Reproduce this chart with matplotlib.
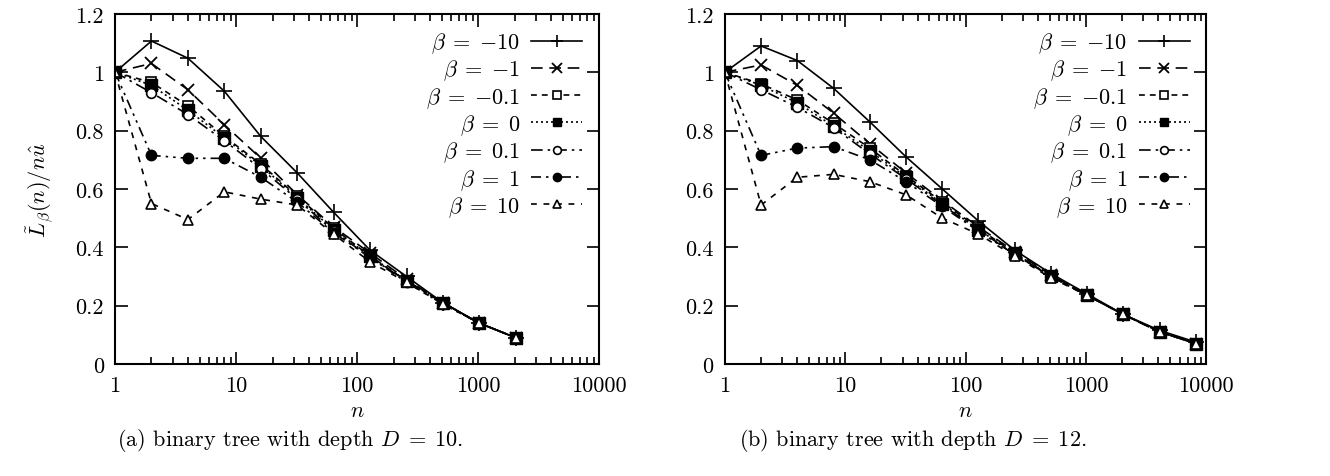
import matplotlib
matplotlib.use("Agg")
import matplotlib.pyplot as plt
from matplotlib.ticker import LogLocator, FixedLocator, FuncFormatter, NullFormatter

plt.rcParams['font.family'] = 'serif'
plt.rcParams['font.serif'] = ['cmr10', 'DejaVu Serif']
plt.rcParams['mathtext.fontset'] = 'cm'
plt.rcParams['axes.unicode_minus'] = False

# ---- data ----
betas = ["-10", "-1", "-0.1", "0", "0.1", "1", "10"]

n_a = [1, 2, 4, 8, 16, 32, 64, 128, 256, 512, 1024, 2048]
vals_a = {
    "-10":  [1.0, 1.107, 1.048, 0.935, 0.78, 0.655, 0.52, 0.39, 0.30, 0.21, 0.14, 0.09],
    "-1":   [1.0, 1.03, 0.94, 0.82, 0.705, 0.58, 0.47, 0.38, 0.29, 0.21, 0.14, 0.09],
    "-0.1": [1.0, 0.965, 0.885, 0.78, 0.685, 0.575, 0.465, 0.37, 0.285, 0.21, 0.14, 0.09],
    "0":    [1.0, 0.955, 0.87, 0.775, 0.68, 0.57, 0.46, 0.37, 0.285, 0.21, 0.14, 0.09],
    "0.1":  [1.0, 0.93, 0.855, 0.765, 0.67, 0.565, 0.455, 0.365, 0.285, 0.21, 0.14, 0.09],
    "1":    [1.0, 0.715, 0.705, 0.705, 0.64, 0.555, 0.45, 0.365, 0.28, 0.205, 0.14, 0.09],
    "10":   [1.0, 0.55, 0.495, 0.59, 0.565, 0.545, 0.445, 0.35, 0.28, 0.205, 0.14, 0.09],
}

n_b = [1, 2, 4, 8, 16, 32, 64, 128, 256, 512, 1024, 2048, 4096, 8192]
vals_b = {
    "-10":  [1.0, 1.09, 1.04, 0.945, 0.83, 0.71, 0.60, 0.49, 0.39, 0.31, 0.24, 0.17, 0.115, 0.075],
    "-1":   [1.0, 1.025, 0.955, 0.86, 0.755, 0.655, 0.56, 0.47, 0.385, 0.305, 0.235, 0.17, 0.11, 0.07],
    "-0.1": [1.0, 0.96, 0.905, 0.825, 0.74, 0.645, 0.555, 0.465, 0.38, 0.30, 0.235, 0.17, 0.11, 0.07],
    "0":    [1.0, 0.955, 0.895, 0.815, 0.73, 0.64, 0.55, 0.46, 0.38, 0.30, 0.235, 0.17, 0.11, 0.07],
    "0.1":  [1.0, 0.94, 0.88, 0.81, 0.72, 0.635, 0.545, 0.46, 0.375, 0.30, 0.235, 0.17, 0.11, 0.07],
    "1":    [1.0, 0.715, 0.74, 0.745, 0.70, 0.625, 0.54, 0.455, 0.375, 0.30, 0.235, 0.17, 0.11, 0.07],
    "10":   [1.0, 0.545, 0.64, 0.65, 0.625, 0.58, 0.50, 0.445, 0.37, 0.295, 0.235, 0.17, 0.11, 0.07],
}

x_ticks = [1, 10, 100, 1000, 10000]
y_ticks = [0, 0.2, 0.4, 0.6, 0.8, 1.0, 1.2]
captions = [r"(a) binary tree with depth $D\;=\;10$.", r"(b) binary tree with depth $D\;=\;12$."]

styles = {
    "-10":  dict(ls='-', marker='+', mfc='black', ms=11, mew=1.2),
    "-1":   dict(ls=(0, (7, 4)), marker='x', mfc='black', ms=9, mew=1.3),
    "-0.1": dict(ls=(0, (3.5, 3)), marker='s', mfc='white', ms=7, mew=1.2),
    "0":    dict(ls=(0, (1.2, 1.8)), marker='s', mfc='black', ms=8, mew=1.0),
    "0.1":  dict(ls=(0, (7, 3, 1.5, 3)), marker='o', mfc='white', ms=7, mew=1.2),
    "1":    dict(ls=(0, (6, 3, 1.5, 3, 1.5, 3)), marker='o', mfc='black', ms=7.5, mew=1.0),
    "10":   dict(ls=(0, (3.5, 4)), marker='^', mfc='white', ms=7.5, mew=1.2),
}


def beta_label(b):
    if b.startswith('-'):
        return r"$\beta\;=\;{-}%s$" % b[1:]
    return r"$\beta\;=\;%s$" % b


fig = plt.figure(figsize=(13.3, 4.77), dpi=100)
ax_a = fig.add_axes([0.0865, 0.2348, 0.364, 0.734])
ax_b = fig.add_axes([0.545, 0.2348, 0.362, 0.734])

for ax, nn, vals, cap, capx in [(ax_a, n_a, vals_a, captions[0], 0.005),
                                 (ax_b, n_b, vals_b, captions[1], 0.03)]:
    for b in betas:
        st = styles[b]
        ax.plot(nn, vals[b], color='black', lw=1.2, ls=st['ls'], marker=st['marker'],
                mfc=st['mfc'], mec='black', ms=st['ms'], mew=st['mew'],
                label=beta_label(b))
    ax.set_xscale('log')
    ax.set_xlim(1, 10000)
    ax.set_ylim(0, 1.2)
    ax.xaxis.set_major_locator(FixedLocator(x_ticks))
    ax.xaxis.set_major_formatter(FuncFormatter(lambda v, p: "%d" % round(v)))
    ax.xaxis.set_minor_locator(LogLocator(base=10, subs=range(2, 10)))
    ax.xaxis.set_minor_formatter(NullFormatter())
    ax.yaxis.set_major_locator(FixedLocator(y_ticks))
    ax.yaxis.set_major_formatter(FuncFormatter(lambda v, p: "%g" % v))
    ax.tick_params(which='both', direction='in', top=True, right=True, labelsize=16, width=1.2)
    ax.tick_params(which='major', length=9, pad=8)
    ax.tick_params(which='minor', length=5)
    for sp in ax.spines.values():
        sp.set_linewidth(1.5)
    ax.set_xlabel("$n$", fontsize=16, labelpad=4)
    ax.text(capx, -0.215, cap, transform=ax.transAxes, fontsize=16, ha='left', va='center')
    ax.legend(loc='upper right', markerfirst=False, frameon=False, fontsize=16,
              handlelength=2.3, labelspacing=0.12, borderaxespad=0.35, handletextpad=0.5,
              markerscale=0.8)

ax_a.set_ylabel(r"$\tilde{L}_\beta(n)/n\hat{u}$", fontsize=16, labelpad=14)

fig.savefig("out.png", dpi=100)
